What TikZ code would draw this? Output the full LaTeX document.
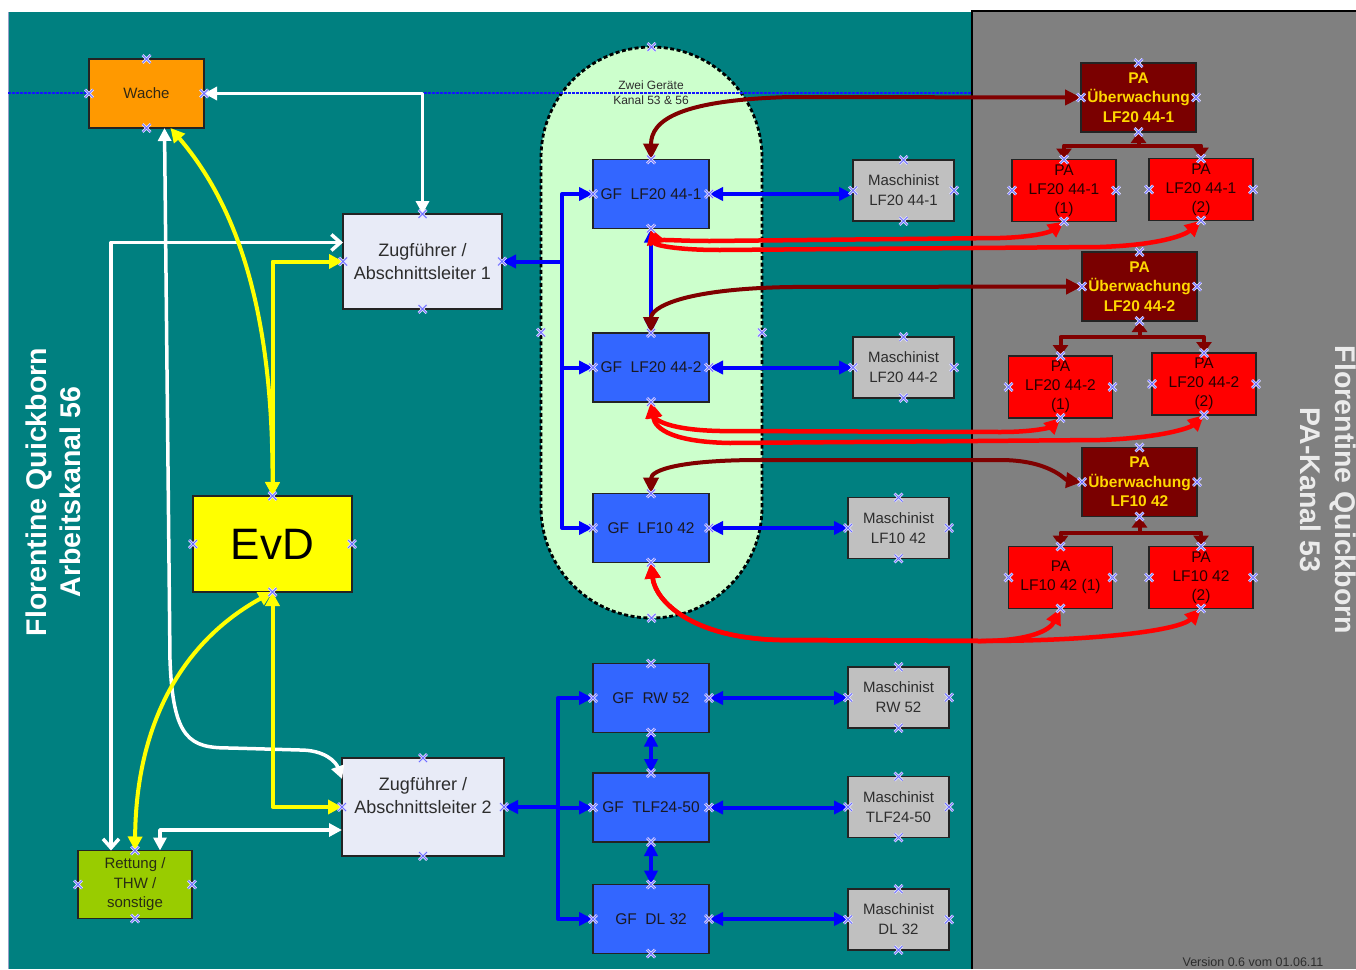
\documentclass[tikz,border=0pt]{standalone}
\usepackage{fontspec}
\setmainfont{Liberation Sans}
\usetikzlibrary{arrows.meta,calc}
\definecolor{tealbg}{RGB}{0,128,128}
\definecolor{graybg}{RGB}{128,128,128}
\definecolor{wacheC}{RGB}{255,153,0}
\definecolor{zugC}{RGB}{232,235,247}
\definecolor{evdC}{RGB}{255,255,0}
\definecolor{rettC}{RGB}{153,204,0}
\definecolor{ellC}{RGB}{204,255,204}
\definecolor{gfC}{RGB}{51,102,255}
\definecolor{maschC}{RGB}{192,192,192}
\definecolor{pauC}{RGB}{122,0,0}
\definecolor{paC}{RGB}{255,0,0}
\definecolor{pauT}{RGB}{255,215,0}
\definecolor{txtC}{RGB}{25,25,35}
\definecolor{txtD}{RGB}{45,45,45}
\definecolor{txtW}{RGB}{50,40,20}
\definecolor{txtR}{RGB}{40,45,20}
\definecolor{txtP}{RGB}{40,0,0}
\definecolor{txtL}{RGB}{235,235,235}
\definecolor{borderC}{RGB}{35,35,35}
\definecolor{edgeC}{RGB}{150,160,200}
\definecolor{bluC}{RGB}{0,0,255}
\definecolor{dredC}{RGB}{128,0,0}
\definecolor{redC}{RGB}{255,0,0}
\definecolor{yelC}{RGB}{255,255,0}
\definecolor{mkC}{RGB}{110,110,255}
\definecolor{mkW}{RGB}{225,225,255}
\definecolor{dotC}{RGB}{20,20,255}
\newcommand\cpx[1]{\draw[cpw] (#1) +(-4,-4) -- +(4,4) +(-4,4) -- +(4,-4);\draw[cpm] (#1) +(-4,-4) -- +(4,4) +(-4,4) -- +(4,-4);}
\begin{document}
\begin{tikzpicture}[x=1pt,y=-1pt,
  box/.style={draw=borderC, line width=1.3pt, inner sep=0pt, outer sep=0pt, align=center, text=txtC, font=\fontsize{15}{19.5}\selectfont},
  gf/.style={box, fill=gfC, minimum width=116pt, minimum height=69pt, font=\fontsize{15.5}{19}\selectfont},
  masch/.style={box, fill=maschC, minimum width=101pt, minimum height=61pt, text=txtD, font=\fontsize{15}{20}\selectfont},
  pau/.style={box, fill=pauC, minimum width=115pt, minimum height=69pt, text=pauT, font=\bfseries\fontsize{15.5}{19.5}\selectfont},
  pa/.style={box, fill=paC, minimum width=104pt, minimum height=62pt, text=txtP, font=\fontsize{15.5}{19}\selectfont},
  wl/.style={draw=white, line width=3.5pt, line join=round, >={Triangle[length=13pt,width=13pt]}},
  yl/.style={draw=yelC, line width=4pt, line join=round, >={Triangle[length=14pt,width=14pt]}},
  bl/.style={draw=bluC, line width=4pt, line join=round, >={Triangle[length=14pt,width=13pt]}},
  dr/.style={draw=dredC, line width=4pt, line join=round, >={Triangle[length=16pt,width=15pt]}},
  drt/.style={draw=dredC, line width=4pt, line join=round, >={Triangle[length=11pt,width=15pt]}},
  rd/.style={draw=redC, line width=4.5pt, line join=round, >={Triangle[length=16pt,width=15pt]}},
  cpm/.style={draw=mkC, line width=1pt},
  cpw/.style={draw=mkW, line width=2.6pt}
]
\useasboundingbox (0,0) rectangle (1356,969);
% backgrounds
\fill[white] (0,0) rectangle (1356,969);
\fill[tealbg] (8,12) rectangle (972,969);
\fill[graybg] (972,12) rectangle (1356,969);
\draw[black, line width=1.5pt] (972,969) -- (972,11) -- (1356,11);
\draw[edgeC, line width=1pt] (8,12) -- (8,969);

% two-device region
\node[draw=black, fill=ellC, line width=2.8pt, dash pattern=on 4pt off 2.5pt, rounded corners=110.5pt, minimum width=221pt, minimum height=571pt, inner sep=0pt, outer sep=0pt] (Ell) at (651.5,332.5) {};
\node[font=\fontsize{12}{15}\selectfont, text=txtD, align=center] (EllT) at (651,92.5) {Zwei Geräte\\Kanal 53 \& 56};
\draw[dotC, line width=1.3pt, dash pattern=on 2.5pt off 1.5pt] (8,93) -- (972,93);

% side labels
\node[rotate=90, align=center, text=white, font=\bfseries\fontsize{28.5}{34}\selectfont] (LblL) at (53,492) {Florentine Quickborn\\Arbeitskanal 56};
\node[rotate=-90, align=center, text=txtL, font=\bfseries\fontsize{28.5}{35}\selectfont] (LblR) at (1328,490) {Florentine Quickborn\\PA-Kanal 53};
\node[font=\fontsize{12.5}{14}\selectfont, text=txtD] (Ver) at (1253,962) {Version 0.6 vom 01.06.11};

% left boxes
\node[box, fill=wacheC, minimum width=115pt, minimum height=69pt, text=txtW] (Wache) at (146.5,93.5) {Wache};
\node[box, fill=zugC, minimum width=159pt, minimum height=95pt, font=\fontsize{18}{23}\selectfont, text=txtD] (Zug1) at (422.5,261.5) {Zugführer /\\Abschnittsleiter 1};
\node[box, fill=zugC, minimum width=162pt, minimum height=98pt, font=\fontsize{18}{23}\selectfont, text=txtD] (Zug2) at (423,807) {Zugführer /\\Abschnittsleiter 2\\\mbox{}};
\node[box, fill=evdC, minimum width=159pt, minimum height=96pt, font=\fontsize{44}{50}\selectfont, text=black] (EvD) at (272.5,544) {EvD};
\node[box, fill=rettC, minimum width=114pt, minimum height=68pt, text=txtR] (Rett) at (135,884.5) {Rettung /\\THW /\\sonstige};

% GF boxes
\node[gf] (GF1) at (651,194) {GF\ \ LF20 44-1};
\node[gf] (GF2) at (651,367.5) {GF\ \ LF20 44-2};
\node[gf] (GF3) at (651,528) {GF\ \ LF10 42};
\node[gf] (GF4) at (651,698) {GF\ \ RW 52};
\node[gf] (GF5) at (651,807.5) {GF\ \ TLF24-50};
\node[gf] (GF6) at (651,919) {GF\ \ DL 32};

% Maschinist boxes
\node[masch] (M1) at (903.5,190.5) {Maschinist\\LF20 44-1};
\node[masch] (M2) at (903.5,367.5) {Maschinist\\LF20 44-2};
\node[masch] (M3) at (898.5,528) {Maschinist\\LF10 42};
\node[masch] (M4) at (898.5,697.5) {Maschinist\\RW 52};
\node[masch] (M5) at (898.5,807) {Maschinist\\TLF24-50};
\node[masch] (M6) at (898.5,919.5) {Maschinist\\DL 32};

% PA boxes
\node[pau] (PAU1) at (1138.5,97.5) {PA\\Überwachung\\LF20 44-1};
\node[pau] (PAU2) at (1139.5,286.5) {PA\\Überwachung\\LF20 44-2};
\node[pau] (PAU3) at (1139.5,482) {PA\\Überwachung\\LF10 42};
\node[pa] (PA11) at (1064,190.5) {PA\\LF20 44-1\\(1)};
\node[pa] (PA12) at (1201,189.5) {PA\\LF20 44-1\\(2)};
\node[pa] (PA21) at (1060.5,387) {PA\\LF20 44-2\\(1)};
\node[pa] (PA22) at (1204,384) {PA\\LF20 44-2\\(2)};
\node[pa] (PA31) at (1060.5,577.5) {PA\\LF10 42 (1)};
\node[pa] (PA32) at (1201,577.5) {PA\\LF10 42\\(2)};

% white connectors
\draw[wl,<->] (Zug1.north) |- (Wache.east);
\draw[wl,<->] ([xshift=18pt]Wache.south) -- (170,660) .. controls (173,740) and (190,748) .. (230,748) -- (300,750) .. controls (325,750) and (336,762) .. ([yshift=28pt]Zug2.west);
\draw[wl, arrows={Straight Barb[length=9pt,width=16pt]-Straight Barb[length=9pt,width=16pt]}] ([yshift=19pt]Zug1.west) -| ([xshift=-24pt]Rett.north);
\draw[wl,<->] ([yshift=-23pt]Zug2.west) -| ([xshift=25pt]Rett.north);

% yellow connectors
\draw[yl,<->] (EvD.north) .. controls (273,330) and (245,215) .. ([xshift=24pt]Wache.south);
\draw[yl,<->] (EvD.north) |- (Zug1.west);
\draw[yl,<->] (EvD.south) |- (Zug2.west);
\draw[yl,<->] (EvD.south) .. controls (185,640) and (136,720) .. (Rett.north);

% blue connectors
\coordinate (busA) at (562,261.5);
\coordinate (busB) at (558,807);
\draw[bl,<-] (Zug1.east) -- (busA);
\draw[bl,->] (busA) |- (GF1.west);
\draw[bl,->] (busA) |- (GF2.west);
\draw[bl,->] (busA) |- (GF3.west);
\draw[bl,<-] (Zug2.east) -- (busB);
\draw[bl,->] (busB) |- (GF4.west);
\draw[bl,->] (busB) |- (GF5.west);
\draw[bl,->] (busB) |- (GF6.west);
\foreach \i in {1,...,6}{\draw[bl,<->] (GF\i.east) -- (GF\i.east -| M\i.west);}
\draw[bl,<->] (GF1.south) -- (GF2.north);
\draw[bl,<->] (GF4.south) -- (GF5.north);
\draw[bl,<->] (GF5.south) -- (GF6.north);

% dark red connectors
\draw[dr,<->] (GF1.north) .. controls (651,120) and (680,100) .. (790,97) -- (PAU1.west);
\draw[dr,<->] (GF2.north) .. controls (651,308) and (680,289) .. (790,287) -- (PAU2.west);
\draw[dr,<->] (GF3.north) .. controls (651,470) and (680,460) .. (760,460) -- (1000,460) .. controls (1050,460) and (1065,480) .. (PAU3.west);
\coordinate (t1) at ([yshift=-13.5pt]PAU1.south);
\coordinate (t2) at ([yshift=-16pt]PAU2.south);
\coordinate (t3) at ([yshift=-16pt]PAU3.south);
\draw[drt,->] (t1) -- (PAU1.south);
\draw[drt,<->] (PA11.north) |- (t1) -| (PA12.north);
\draw[drt,->] (t2) -- (PAU2.south);
\draw[drt,<->] (PA21.north) |- (t2) -| (PA22.north);
\draw[drt,->] (t3) -- (PAU3.south);
\draw[drt,<->] (PA31.north) |- (t3) -| (PA32.north);

% red connectors
\draw[rd,<->] (GF1.south) .. controls (655,238) and (670,241) .. (710,241) -- (1000,238) .. controls (1035,237) and (1050,232) .. (PA11.south);
\draw[rd,<->] (GF1.south) .. controls (655,245) and (675,250) .. (720,250) -- (1100,247) .. controls (1160,245) and (1185,235) .. (PA12.south);
\draw[rd,<->] (GF2.south) .. controls (655,420) and (670,430) .. (720,431) -- (1000,432) .. controls (1040,432) and (1052,426) .. (PA21.south);
\draw[rd,<->] (GF2.south) .. controls (655,430) and (675,442) .. (730,443) -- (1100,440) .. controls (1160,438) and (1190,428) .. (PA22.south);
\draw[rd,<->] (GF3.south) .. controls (655,600) and (690,638) .. (780,640) -- (980,641) .. controls (1030,641) and (1050,630) .. (PA31.south);
\draw[rd,<->] (GF3.south) .. controls (655,600) and (690,638) .. (780,640) -- (980,641) .. controls (1100,641) and (1180,630) .. (PA32.south);

% connection point markers
\foreach \n in {Wache,Zug1,Zug2,EvD,Rett,GF1,GF2,GF3,GF4,GF5,GF6,M1,M2,M3,M4,M5,M6,PAU1,PAU2,PAU3,PA11,PA12,PA21,PA22,PA31,PA32,Ell}{
  \foreach \a in {north,south,east,west}{\cpx{\n.\a}}
}
\end{tikzpicture}
\end{document}
